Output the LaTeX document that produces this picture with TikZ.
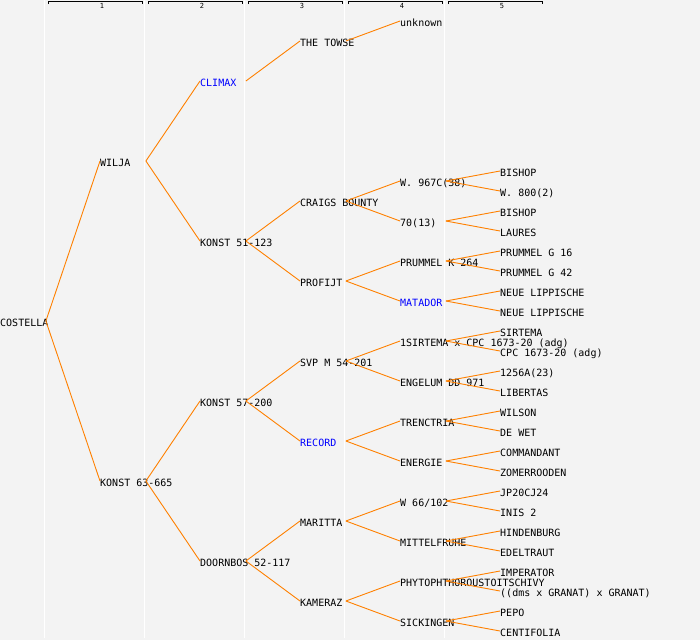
\documentclass[tikz,border=0pt]{standalone}
\usepackage{fontspec}
\setmonofont{DejaVu Sans Mono}
\definecolor{pedbg}{RGB}{243,243,243}
\definecolor{pedorange}{RGB}{255,128,0}
\definecolor{pedblue}{RGB}{0,0,255}
\newcommand\pedbox[1]{\makebox[45.5pt][l]{#1}}
\tikzset{
  pn/.style={anchor=west, inner sep=0pt, text height=10pt, text depth=0pt,
    font=\ttfamily\fontsize{10}{12}\selectfont, text=black},
  pblue/.style={pn, text=pedblue},
  edge/.style={draw=pedorange, line width=0.9pt},
  colline/.style={draw=white, line width=1pt},
  bracket/.style={draw=black, line width=0.9pt},
  hlabel/.style={inner sep=0pt, font=\ttfamily\fontsize{7}{8}\selectfont}
}
\begin{document}
\begin{tikzpicture}[x=1pt,y=-1pt]
\useasboundingbox (0,0) rectangle (700,640);
\fill[pedbg] (0,0) rectangle (700,640);
% column separators
\foreach \cx in {44.5,144.5,244.5,344.5,444.5}
  \draw[colline] (\cx,0) -- (\cx,637.5);
% header brackets
\foreach \k in {1,...,5}{
  \draw[bracket] ({48+100*(\k-1)},4.2) -- ({48+100*(\k-1)},1.5) -- ({142+100*(\k-1)},1.5) -- ({142+100*(\k-1)},4.2);
  \node[hlabel] (h\k) at ({102+100*(\k-1)},6.3) {\k};
}
% generation 0
\node[pn] (c)   at (0,321)   {\pedbox{COSTELLA}};
% generation 1
\node[pn] (s)   at (100,161) {\pedbox{WILJA}};
\node[pn] (d)   at (100,481) {\pedbox{KONST 63-665}};
% generation 2
\node[pblue] (ss) at (200,81)  {\pedbox{CLIMAX}};
\node[pn] (sd)  at (200,241) {\pedbox{KONST 51-123}};
\node[pn] (ds)  at (200,401) {\pedbox{KONST 57-200}};
\node[pn] (dd)  at (200,561) {\pedbox{DOORNBOS 52-117}};
% generation 3
\node[pn] (sss) at (300,41)  {\pedbox{THE TOWSE}};
\node[pn] (sds) at (300,201) {\pedbox{CRAIGS BOUNTY}};
\node[pn] (sdd) at (300,281) {\pedbox{PROFIJT}};
\node[pn] (dss) at (300,361) {\pedbox{SVP M 54-201}};
\node[pblue] (dsd) at (300,441) {\pedbox{RECORD}};
\node[pn] (dds) at (300,521) {\pedbox{MARITTA}};
\node[pn] (ddd) at (300,601) {\pedbox{KAMERAZ}};
% generation 4
\node[pn] (ssss) at (400,21)  {\pedbox{unknown}};
\node[pn] (sdss) at (400,181) {\pedbox{W. 967C(38)}};
\node[pn] (sdsd) at (400,221) {\pedbox{70(13)}};
\node[pn] (sdds) at (400,261) {\pedbox{PRUMMEL K 264}};
\node[pblue] (sddd) at (400,301) {\pedbox{MATADOR}};
\node[pn] (dsss) at (400,341) {\pedbox{1SIRTEMA x CPC 1673-20 (adg)}};
\node[pn] (dssd) at (400,381) {\pedbox{ENGELUM DD 971}};
\node[pn] (dsds) at (400,421) {\pedbox{TRENCTRIA}};
\node[pn] (dsdd) at (400,461) {\pedbox{ENERGIE}};
\node[pn] (ddss) at (400,501) {\pedbox{W 66/102}};
\node[pn] (ddsd) at (400,541) {\pedbox{MITTELFRUHE}};
\node[pn] (ddds) at (400,581) {\pedbox{PHYTOPHTHOROUSTOITSCHIVY}};
\node[pn] (dddd) at (400,621) {\pedbox{SICKINGEN}};
% generation 5
\node[pn] (g1)  at (500,171) {\pedbox{BISHOP}};
\node[pn] (g2)  at (500,191) {\pedbox{W. 800(2)}};
\node[pn] (g3)  at (500,211) {\pedbox{BISHOP}};
\node[pn] (g4)  at (500,231) {\pedbox{LAURES}};
\node[pn] (g5)  at (500,251) {\pedbox{PRUMMEL G 16}};
\node[pn] (g6)  at (500,271) {\pedbox{PRUMMEL G 42}};
\node[pn] (g7)  at (500,291) {\pedbox{NEUE LIPPISCHE}};
\node[pn] (g8)  at (500,311) {\pedbox{NEUE LIPPISCHE}};
\node[pn] (g9)  at (500,331) {\pedbox{SIRTEMA}};
\node[pn] (g10) at (500,351) {\pedbox{CPC 1673-20 (adg)}};
\node[pn] (g11) at (500,371) {\pedbox{1256A(23)}};
\node[pn] (g12) at (500,391) {\pedbox{LIBERTAS}};
\node[pn] (g13) at (500,411) {\pedbox{WILSON}};
\node[pn] (g14) at (500,431) {\pedbox{DE WET}};
\node[pn] (g15) at (500,451) {\pedbox{COMMANDANT}};
\node[pn] (g16) at (500,471) {\pedbox{ZOMERROODEN}};
\node[pn] (g17) at (500,491) {\pedbox{JP20CJ24}};
\node[pn] (g18) at (500,511) {\pedbox{INIS 2}};
\node[pn] (g19) at (500,531) {\pedbox{HINDENBURG}};
\node[pn] (g20) at (500,551) {\pedbox{EDELTRAUT}};
\node[pn] (g21) at (500,571) {\pedbox{IMPERATOR}};
\node[pn] (g22) at (500,591) {\pedbox{((dms x GRANAT) x GRANAT)}};
\node[pn] (g23) at (500,611) {\pedbox{PEPO}};
\node[pn] (g24) at (500,631) {\pedbox{CENTIFOLIA}};
% connectors
\foreach \p/\q in {c/s, c/d, s/ss, s/sd, d/ds, d/dd,
  ss/sss, sd/sds, sd/sdd, ds/dss, ds/dsd, dd/dds, dd/ddd,
  sss/ssss, sds/sdss, sds/sdsd, sdd/sdds, sdd/sddd, dss/dsss, dss/dssd,
  dsd/dsds, dsd/dsdd, dds/ddss, dds/ddsd, ddd/ddds, ddd/dddd,
  sdss/g1, sdss/g2, sdsd/g3, sdsd/g4, sdds/g5, sdds/g6, sddd/g7, sddd/g8,
  dsss/g9, dsss/g10, dssd/g11, dssd/g12, dsds/g13, dsds/g14, dsdd/g15, dsdd/g16,
  ddss/g17, ddss/g18, ddsd/g19, ddsd/g20, ddds/g21, ddds/g22, dddd/g23, dddd/g24}
  \draw[edge] (\p.east) -- (\q.west);
\end{tikzpicture}
\end{document}
